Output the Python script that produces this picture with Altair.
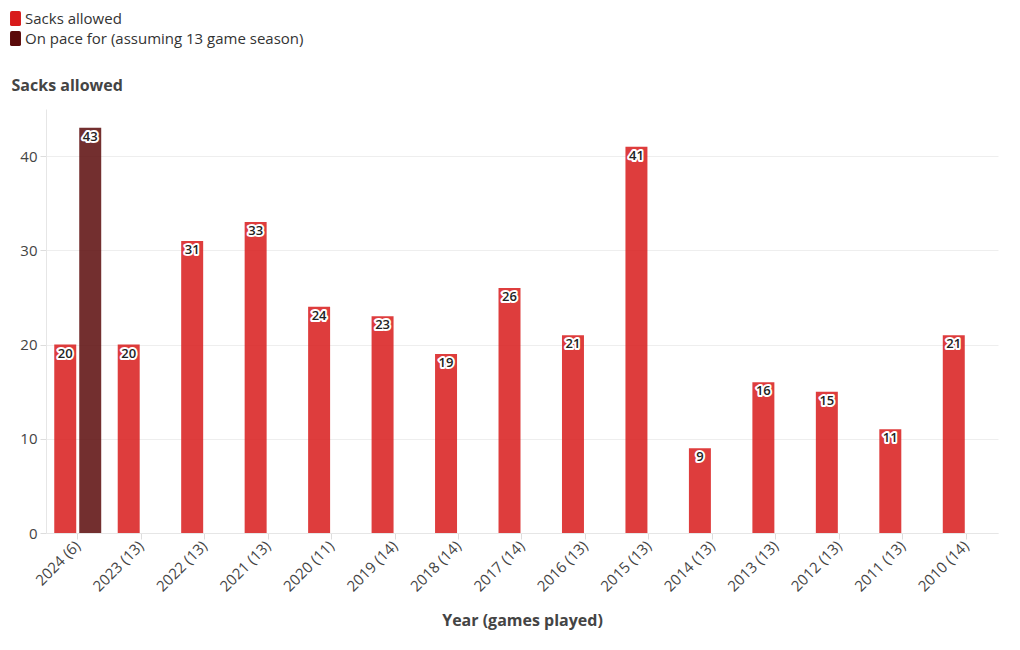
import altair as alt
import pandas as pd

years = ["2024 (6)", "2023 (13)", "2022 (13)", "2021 (13)", "2020 (11)", "2019 (14)",
         "2018 (14)", "2017 (14)", "2016 (13)", "2015 (13)", "2014 (13)", "2013 (13)",
         "2012 (13)", "2011 (13)", "2010 (14)"]
sacks = [20, 20, 31, 33, 24, 23, 19, 26, 21, 41, 9, 16, 15, 11, 21]
pace = [43, None, None, None, None, None, None, None, None, None, None, None, None, None, None]
series_names = ["Sacks allowed", "On pace for (assuming 13 game season)"]
series_colors = ["#d81b1b", "#5a0a0a"]

rows = []
for y, s, p in zip(years, sacks, pace):
    rows.append({"year": y, "series": series_names[0], "value": s})
    if p is not None:
        rows.append({"year": y, "series": series_names[1], "value": p})
df = pd.DataFrame(rows)

FONT = "Open Sans"
rounded = ("M-0.48,-1 L0.48,-1 Q0.73,-1 0.73,-0.75 L0.73,0.75 Q0.73,1 0.48,1 "
           "L-0.48,1 Q-0.73,1 -0.73,0.75 L-0.73,-0.75 Q-0.73,-1 -0.48,-1 Z")

x_enc = alt.X("year:N", sort=years,
              scale=alt.Scale(paddingInner=0.26, paddingOuter=0.13),
              axis=alt.Axis(title="Year (games played)", labelAngle=-45, labelAlign="right",
                            labelBaseline="middle", labelFontSize=15, labelColor="#444",
                            labelFont=FONT, tickColor="#ddd", tickSize=6, domainColor="#e6e6e6",
                            titleFont=FONT, titleFontSize=16, titleFontWeight="bold",
                            titleColor="#444", titleBaseline="top", titleY=79, labelPadding=4))
xo_enc = alt.XOffset("series:N", sort=series_names,
                     scale=alt.Scale(paddingInner=0.12, paddingOuter=0))
y_enc = alt.Y("value:Q", scale=alt.Scale(domain=[0, 45], nice=False),
              axis=alt.Axis(title="Sacks allowed", values=[0, 10, 20, 30, 40], titleAngle=0,
                            titleAlign="left", titleX=-35, titleY=-19, titleBaseline="alphabetic",
                            titleFont=FONT, titleFontSize=16, titleFontWeight="bold",
                            titleColor="#444", labelFont=FONT, labelFontSize=15,
                            labelColor="#444", tickColor="#ddd", tickSize=6,
                            domainColor="#e6e6e6", gridColor="#eeeeee", labelPadding=3))

color_enc = alt.Color("series:N", sort=series_names,
                      scale=alt.Scale(domain=series_names, range=series_colors),
                      legend=alt.Legend(title=None, orient="none", legendX=-38, legendY=-98,
                                        symbolType=rounded, symbolSize=225, symbolOpacity=1,
                                        symbolStrokeWidth=0, labelFont=FONT, labelFontSize=15,
                                        labelColor="#333", rowPadding=4, labelOffset=2,
                                        labelLimit=600))

base = alt.Chart(df)
bars = base.mark_bar(opacity=0.85).encode(x=x_enc, xOffset=xo_enc, y=y_enc, color=color_enc)
halo = base.mark_text(font=FONT, fontSize=13, fontWeight=600, dy=9, baseline="middle",
                      stroke="white", strokeWidth=4, strokeJoin="round", fill="white").encode(
    x=alt.X("year:N", sort=years), xOffset=alt.XOffset("series:N", sort=series_names),
    y="value:Q", text="value:Q")
labels = base.mark_text(font=FONT, fontSize=13, fontWeight=600, dy=9, baseline="middle",
                        fill="#222").encode(
    x=alt.X("year:N", sort=years), xOffset=alt.XOffset("series:N", sort=series_names),
    y="value:Q", text="value:Q")

chart = alt.layer(bars, halo, labels).properties(
    width=952, height=424,
    autosize=alt.AutoSizeParams(type="none"),
    padding={"left": 38, "top": 101, "right": 14, "bottom": 100},
).configure(background="white", view=alt.ViewConfig(stroke=None))

chart.save("out.html", embed_options={"renderer": "svg", "actions": False})
